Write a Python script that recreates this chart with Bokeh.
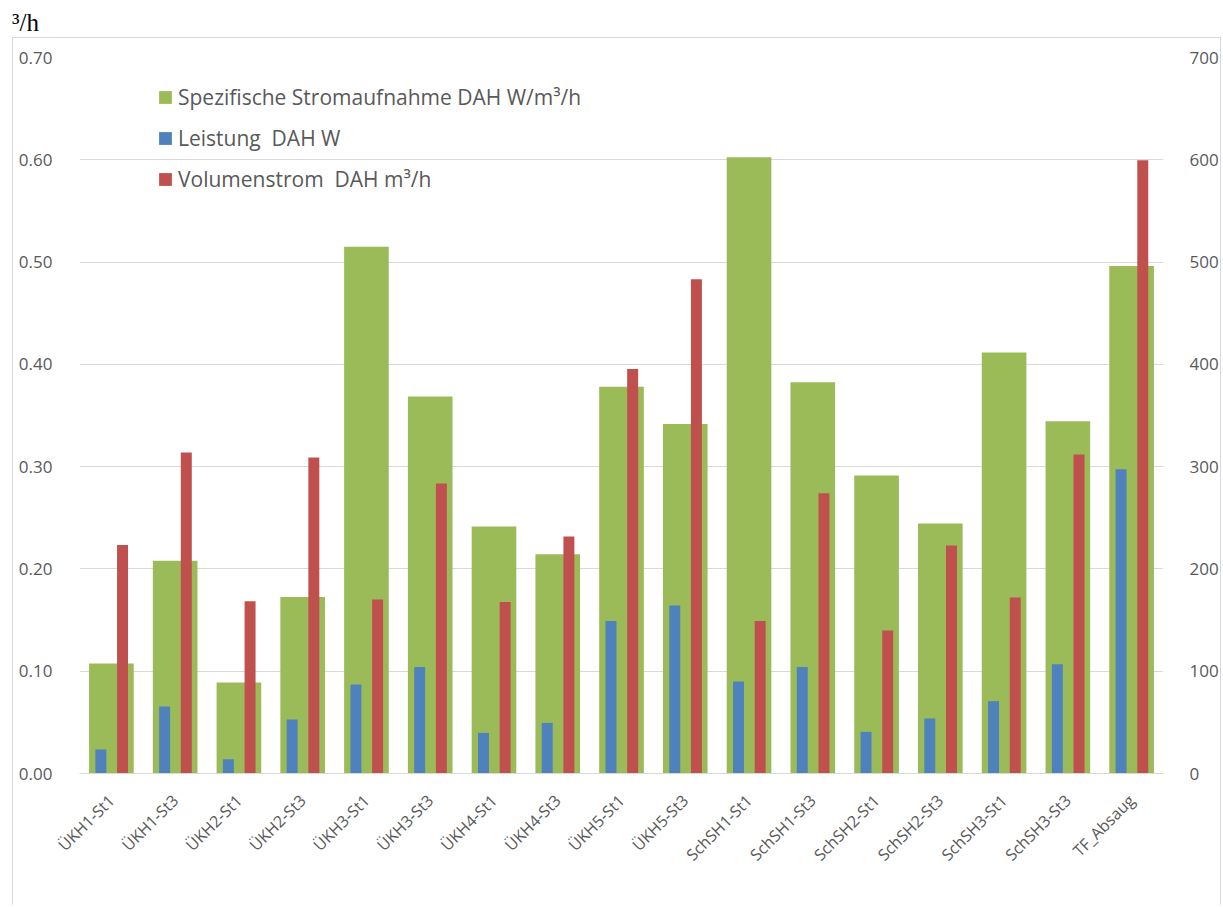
import math
from bokeh.plotting import figure
from bokeh.models import (FactorRange, Range1d, LinearAxis, FixedTicker, NumeralTickFormatter,
                          ColumnDataSource, Legend, LegendItem, Div)
from bokeh.transform import dodge
from bokeh.layouts import column
from bokeh.embed import file_html
from bokeh.resources import INLINE

categories = ["ÜKH1-St1", "ÜKH1-St3", "ÜKH2-St1", "ÜKH2-St3", "ÜKH3-St1", "ÜKH3-St3",
              "ÜKH4-St1", "ÜKH4-St3", "ÜKH5-St1", "ÜKH5-St3", "SchSH1-St1", "SchSH1-St3",
              "SchSH2-St1", "SchSH2-St3", "SchSH3-St1", "SchSH3-St3", "TF_Absaug"]
spez_strom = [0.1075, 0.208, 0.089, 0.1726, 0.515, 0.3685, 0.2415, 0.2144, 0.378, 0.3418,
              0.6025, 0.3825, 0.2913, 0.2444, 0.4115, 0.3444, 0.4962]
leistung = [23.5, 65.5, 14.0, 52.8, 87.0, 104.2, 39.7, 49.5, 149.2, 164.2,
            89.9, 104.2, 40.7, 53.8, 70.7, 106.8, 297.5]
volumenstrom = [223.3, 313.8, 168.4, 308.9, 170.0, 283.5, 167.7, 231.7, 395.5, 483.2,
                149.2, 274.0, 139.8, 222.9, 172.0, 311.8, 599.5]
left_ticks = [0.0, 0.1, 0.2, 0.3, 0.4, 0.5, 0.6, 0.7]
right_ticks = [0, 100, 200, 300, 400, 500, 600, 700]

labels = ["Spezifische Stromaufnahme DAH W/m³/h", "Leistung  DAH W", "Volumenstrom  DAH m³/h"]
title_text = "³/h"

GREEN, BLUE, RED = "#9BBB59", "#4F81BD", "#C0504D"
TXT = "#595959"
GRID = "#d9d9d9"
FONT = "Open Sans"

src = ColumnDataSource(dict(cat=categories, spez=spez_strom, leistung=leistung, volumen=volumenstrom))

p = figure(x_range=FactorRange(factors=categories, range_padding=0),
           y_range=Range1d(0, 0.7),
           width=1209, height=868, output_backend="svg", toolbar_location=None,
           min_border_left=66, min_border_right=59, min_border_top=19, min_border_bottom=133)
p.extra_y_ranges = {"right": Range1d(0, 700)}
p.outline_line_color = None
p.xgrid.grid_line_color = None

lt = FixedTicker(ticks=left_ticks)
p.yaxis.ticker = lt
p.ygrid.ticker = lt
p.ygrid.grid_line_color = GRID
p.yaxis.formatter = NumeralTickFormatter(format="0.00")
p.yaxis.axis_line_color = None
p.yaxis.major_tick_line_color = None
p.yaxis.minor_tick_line_color = None
p.yaxis.major_label_standoff = 21
p.yaxis.major_label_text_font = FONT
p.yaxis.major_label_text_font_size = "17px"
p.yaxis.major_label_text_color = TXT

p.xaxis.axis_line_color = GRID
p.xaxis.major_tick_line_color = None
p.xaxis.minor_tick_line_color = None
p.xaxis.major_label_orientation = math.pi / 4
p.xaxis.major_label_standoff = 18
p.xaxis.major_label_text_font = FONT
p.xaxis.major_label_text_font_size = "16px"
p.xaxis.major_label_text_color = TXT

ra = LinearAxis(y_range_name="right", ticker=FixedTicker(ticks=right_ticks),
                formatter=NumeralTickFormatter(format="0"))
ra.axis_line_color = None
ra.major_tick_line_color = None
ra.minor_tick_line_color = None
ra.major_label_standoff = 20
ra.major_label_text_font = FONT
ra.major_label_text_font_size = "17px"
ra.major_label_text_color = TXT
p.add_layout(ra, "right")

g = p.vbar(x="cat", top="spez", width=0.70, source=src, fill_color=GREEN, line_color=None)
b = p.vbar(x=dodge("cat", -0.165, range=p.x_range), top="leistung", width=0.172, source=src,
           y_range_name="right", fill_color=BLUE, line_color=None)
r = p.vbar(x=dodge("cat", 0.175, range=p.x_range), top="volumen", width=0.172, source=src,
           y_range_name="right", fill_color=RED, line_color=None)

legend = Legend(items=[LegendItem(label=labels[0], renderers=[g]),
                       LegendItem(label=labels[1], renderers=[b]),
                       LegendItem(label=labels[2], renderers=[r])],
                location=(78, 580), orientation="vertical",
                border_line_color=None, background_fill_alpha=0,
                padding=0, margin=0, spacing=13, label_height=28,
                glyph_height=16, glyph_width=16, label_standoff=5,
                label_text_font=FONT, label_text_font_size="21px", label_text_color=TXT)
p.add_layout(legend)

p.margin = (0, 0, 0, 12)
p.styles = {"border-top": "1px solid #d9d9d9", "border-left": "1px solid #d9d9d9",
            "border-right": "1px solid #d9d9d9", "box-sizing": "border-box"}

title = Div(text=('<div style="font-family: \'Liberation Serif\', serif; font-size: 25px; '
                  'line-height: 25px; padding-top: 10px; color: #000000;">' + title_text + '</div>'),
            width=60, height=37, margin=(0, 0, 0, 12))

layout = column(title, p, spacing=0)
open("out.html", "w").write(file_html(layout, INLINE))
